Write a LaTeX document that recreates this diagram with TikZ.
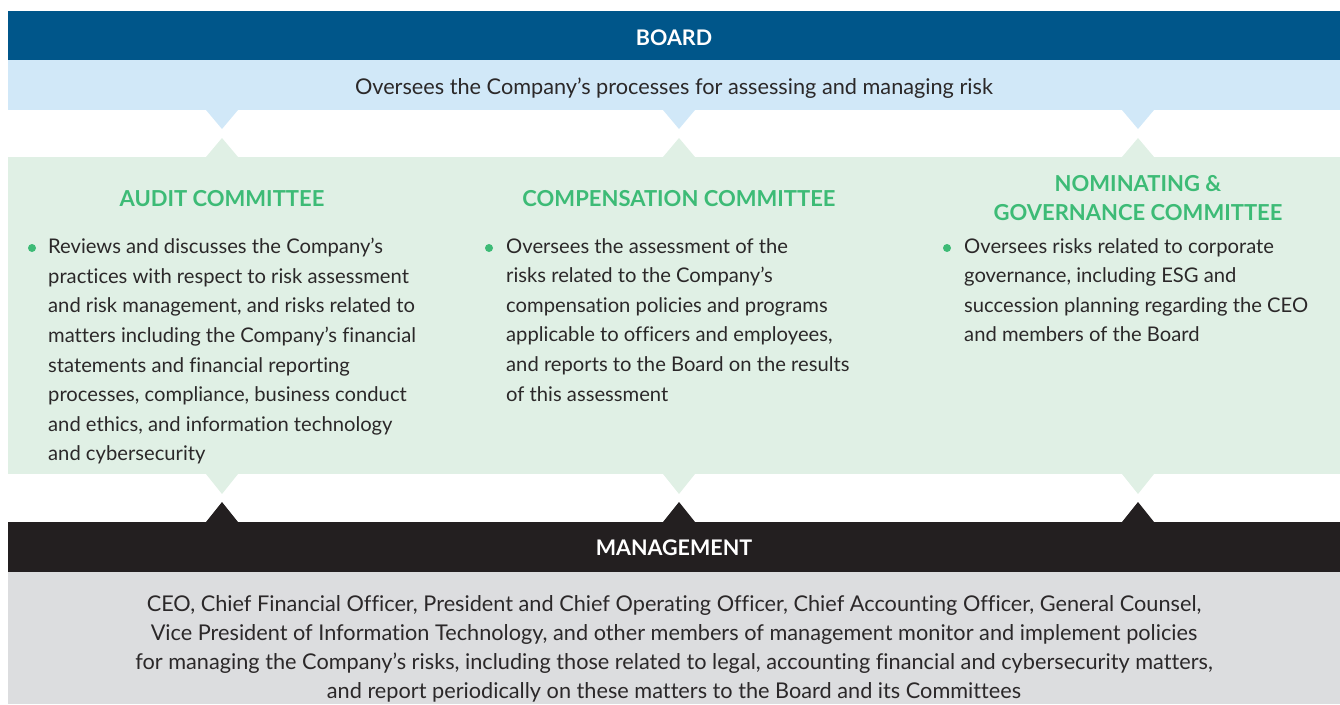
\documentclass[tikz,border=0pt]{standalone}
\usepackage{fontspec}
\setmainfont{Lato}[Ligatures=NoCommon]
\usepackage{xcolor}
\usetikzlibrary{positioning,calc}

\definecolor{boardblue}{HTML}{00568A}
\definecolor{boardlight}{HTML}{D1E8F8}
\definecolor{cmtgreen}{HTML}{E0F0E5}
\definecolor{cmttitle}{HTML}{3DBB76}
\definecolor{mgmtblack}{HTML}{231F20}
\definecolor{mgmtgray}{HTML}{DCDDDF}
\definecolor{bodytext}{HTML}{2B2829}

\begin{document}
\begin{tikzpicture}[
  x=1pt, y=-1pt,
  band/.style={rectangle, inner sep=0pt, outer sep=0pt, minimum width=1332pt, anchor=north},
  head/.style={font=\fontsize{21.5}{24}\selectfont\bfseries, text=white},
  note/.style={font=\fontsize{21.7}{29}\selectfont, text=bodytext, align=center},
  cmthead/.style={font=\fontsize{22}{29}\selectfont\bfseries, text=cmttitle, align=center},
  cmttext/.style={font=\fontsize{20.2}{29.6}\selectfont, text=bodytext, align=left,
                  anchor=north west, inner sep=0pt},
  dot/.style={circle, fill=cmttitle, inner sep=0pt, minimum size=8pt}
]
  \useasboundingbox (0,0) rectangle (1340,704);

  % board
  \node[band, fill=boardblue, minimum height=49pt] (board) at (674,11) {};
  \node[head] at ($(board.center)+(0,2)$) {BOARD};
  \node[band, fill=boardlight, minimum height=50pt, below=0pt of board] (boardnote) {};
  \node[note] at ($(boardnote.center)+(0,3.5)$) {Oversees the Company’s processes for assessing and managing risk};

  % committees
  \node[band, fill=cmtgreen, minimum height=317pt] (cmt) at (674,157) {};

  % management
  \node[band, fill=mgmtblack, minimum height=50pt] (mgmt) at (674,522) {};
  \node[head] at ($(mgmt.center)+(0,1)$) {MANAGEMENT};
  \node[band, fill=mgmtgray, minimum height=132pt, below=0pt of mgmt] (mgmtnote) {};
  \node[note] at ($(mgmtnote.center)+(0,11)$) {CEO, Chief Financial Officer, President and Chief Operating Officer, Chief Accounting Officer, General Counsel,\\
    Vice President of Information Technology, and other members of management monitor and implement policies\\
    for managing the Company’s risks, including those related to legal, accounting financial and cybersecurity matters,\\
    and report periodically on these matters to the Board and its Committees};

  % pointers between the bands
  \foreach \x in {222,679,1138} {
    \fill[boardlight] (\x-16,110) -- (\x+16,110) -- (\x,129) -- cycle;
    \fill[cmtgreen] (\x-16,157) -- (\x+16,157) -- (\x,138) -- cycle;
    \fill[cmtgreen] (\x-16,474) -- (\x+16,474) -- (\x,494) -- cycle;
    \fill[mgmtblack] (\x-16,522) -- (\x+16,522) -- (\x,502) -- cycle;
  }

  % committee columns
  \node[cmthead] (audit) at (222,199) {AUDIT COMMITTEE};
  \node[cmthead] (comp) at (679,199) {COMPENSATION COMMITTEE};
  \node[cmthead] (nom) at (1138,198) {NOMINATING \&\\GOVERNANCE COMMITTEE};

  \node[cmttext] (audittext) at (48,238) {Reviews and discusses the Company’s\\
    practices with respect to risk assessment\\
    and risk management, and risks related to\\
    matters including the Company’s financial\\
    statements and financial reporting\\
    processes, compliance, business conduct\\
    and ethics, and information technology\\
    and cybersecurity};
  \node[cmttext] (comptext) at (506,238) {Oversees the assessment of the\\
    risks related to the Company’s\\
    compensation policies and programs\\
    applicable to officers and employees,\\
    and reports to the Board on the results\\
    of this assessment};
  \node[cmttext] (nomtext) at (964,238) {Oversees risks related to corporate\\
    governance, including ESG and\\
    succession planning regarding the CEO\\
    and members of the Board};

  \node[dot] at ($(audittext.north west)+(-16,10)$) {};
  \node[dot] at ($(comptext.north west)+(-17,10)$) {};
  \node[dot] at ($(nomtext.north west)+(-17,10)$) {};
\end{tikzpicture}
\end{document}
